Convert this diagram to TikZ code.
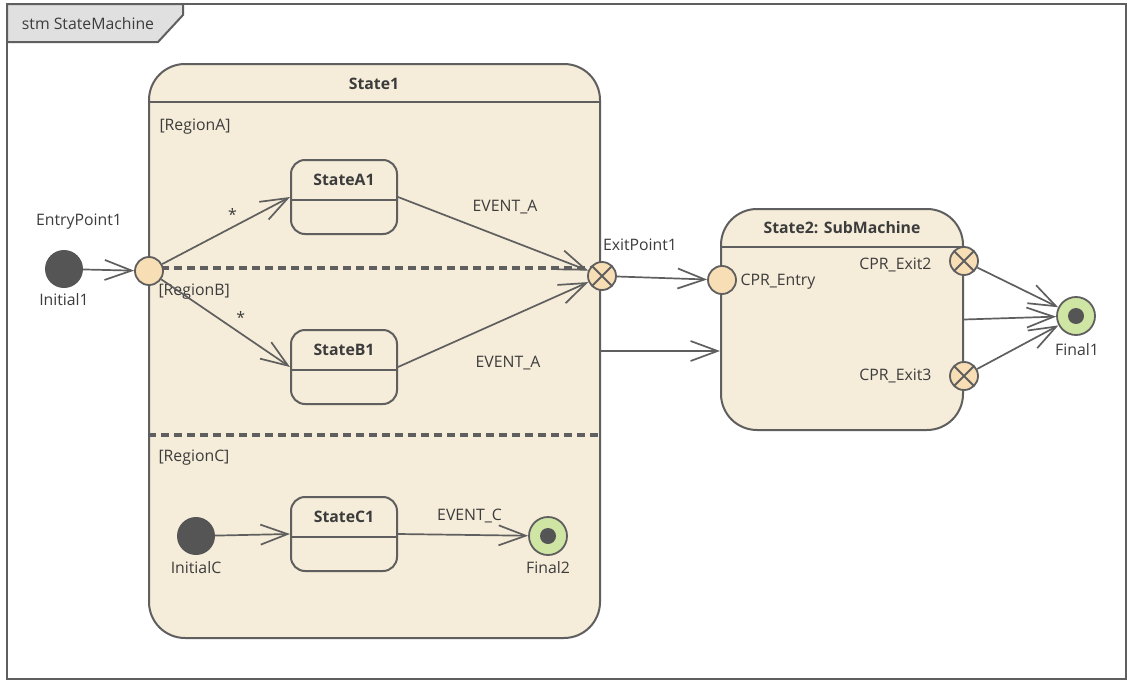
\documentclass[tikz,border=0pt]{standalone}
\usepackage{fontspec}
\setmainfont{Open Sans}
\usepackage{xcolor}
\usetikzlibrary{arrows.meta, calc}

\definecolor{lineGray}{RGB}{95,95,95}
\definecolor{txtGray}{RGB}{60,60,60}
\definecolor{stateFill}{RGB}{245,236,217}
\definecolor{pointFill}{RGB}{248,222,180}
\definecolor{finalGreen}{RGB}{206,229,164}
\definecolor{initGray}{RGB}{85,85,85}
\definecolor{tabGray}{RGB}{224,224,224}

\begin{document}
\begin{tikzpicture}[x=1pt,y=-1pt]
\tikzset{every node/.style={font=\fontsize{15.8}{18}\selectfont,text=txtGray},
         statename/.style={font=\fontsize{15.8}{18}\selectfont\bfseries},
         state/.style={draw=lineGray,line width=2pt,fill=stateFill,rounded corners=14pt},
         initial/.style={circle,fill=initGray,minimum size=38pt,inner sep=0pt},
         final/.style={circle,draw=lineGray,line width=1.8pt,fill=finalGreen,minimum size=38pt,inner sep=0pt,
           path picture={\fill[initGray] (path picture bounding box.center) circle (8pt);}},
         entrypt/.style={circle,draw=lineGray,line width=1.8pt,fill=pointFill,minimum size=28pt,inner sep=0pt},
         exitpt/.style={entrypt,path picture={\draw[lineGray,line width=1.8pt]
           (path picture bounding box.north west)--(path picture bounding box.south east)
           (path picture bounding box.south west)--(path picture bounding box.north east);}},
         trans/.style={draw=lineGray,line width=1.7pt,-{Straight Barb[length=27pt,width=20pt]}},
         sepline/.style={draw=lineGray,line width=3.4pt,dash pattern=on 8pt off 5pt},
         hline/.style={draw=lineGray,line width=2pt}}
\useasboundingbox (0,0) rectangle (1127,680);
% Frame and tab
\draw[lineGray,line width=2pt,fill=white](7,4) rectangle (1126,679);
\draw[lineGray,line width=2pt,fill=tabGray](7,4)--(183,4)--(183,15)--(158,42)--(7,42)--cycle;
\node (title) at (88,24) {stm StateMachine};
% State1 (composite, three regions)
\node[state,minimum width=451pt,minimum height=574pt,rounded corners=36pt] (s1) at (374.5,351) {};
\node[statename] (s1name) at (374,84) {State1};
\draw[hline]($(s1.north west)+(0,39)$)--($(s1.north east)+(0,39)$);
\draw[sepline]($(s1.west)+(0,-83)$)--($(s1.east)+(0,-83)$);
\draw[sepline]($(s1.west)+(0,84)$)--($(s1.east)+(0,84)$);
\node[anchor=west] (regA) at (156,127) {[RegionA]};
\node[anchor=west] (regB) at (155,292) {[RegionB]};
\node[anchor=west] (regC) at (155,458) {[RegionC]};
% Substates
\node[state,minimum width=106pt,minimum height=74pt] (sa1) at (344,197) {};
\draw[hline]($(sa1.west)+(0,3)$)--($(sa1.east)+(0,3)$);
\node[statename] (sa1name) at (344,180) {StateA1};
\node[state,minimum width=106pt,minimum height=74pt] (sb1) at (344,367) {};
\draw[hline]($(sb1.west)+(0,3)$)--($(sb1.east)+(0,3)$);
\node[statename] (sb1name) at (344,350) {StateB1};
\node[state,minimum width=106pt,minimum height=74pt] (sc1) at (344,534) {};
\draw[hline]($(sc1.west)+(0,3)$)--($(sc1.east)+(0,3)$);
\node[statename] (sc1name) at (344,517) {StateC1};
% State2 (submachine)
\node[state,minimum width=242pt,minimum height=221pt,rounded corners=36pt] (s2) at (842,319.5) {};
\draw[hline]($(s2.north west)+(0,39)$)--($(s2.north east)+(0,39)$);
\node[statename] (s2name) at (842,228) {State2: SubMachine};
% Pseudostates
\node[initial] (init1) at (64,269) {};
\node (init1lbl) at (64,300) {Initial1};
\node[entrypt] (ep1) at (149,271) {};
\node (ep1lbl) at (79,222) {EntryPoint1};
\node[exitpt] (xp1) at (602,276) {};
\node (xp1lbl) at (640,245) {ExitPoint1};
\node[entrypt] (cpre) at (722,280) {};
\node[anchor=west] (cprelbl) at (737,282) {CPR\_Entry};
\node[exitpt] (cprx2) at (964,261) {};
\node[anchor=east] (cprx2lbl) at (935,265) {CPR\_Exit2};
\node[exitpt] (cprx3) at (964,376) {};
\node[anchor=east] (cprx3lbl) at (935,376) {CPR\_Exit3};
\node[final] (fin1) at (1076,316) {};
\node (fin1lbl) at (1077,350) {Final1};
\node[initial] (initc) at (196,536) {};
\node (initclbl) at (196,568) {InitialC};
\node[final] (fin2) at (548,536) {};
\node (fin2lbl) at (548,568) {Final2};
% Transitions
\draw[trans](init1)--(ep1);
\draw[trans](ep1)--(sa1.west) node[pos=0.55,above=3pt]{*};
\draw[trans](ep1)--(sb1.west) node[pos=0.55,above right=0pt]{*};
\draw[trans](sa1.east)--(xp1);
\draw[trans](sb1.east)--(xp1);
\node (evA1) at (505,207) {EVENT\_A};
\node (evA2) at (508,363) {EVENT\_A};
\draw[trans](xp1)--(cpre);
\draw[trans](s1.east)--(s1.east -| s2.west);
\draw[trans](cprx2)--(fin1);
\draw[trans](s2.east)--(fin1);
\draw[trans](cprx3)--(fin1);
\draw[trans](initc)--(sc1.west);
\draw[trans](sc1.east)--(fin2) node[pos=0.55,above=8pt]{EVENT\_C};
\end{tikzpicture}
\end{document}
